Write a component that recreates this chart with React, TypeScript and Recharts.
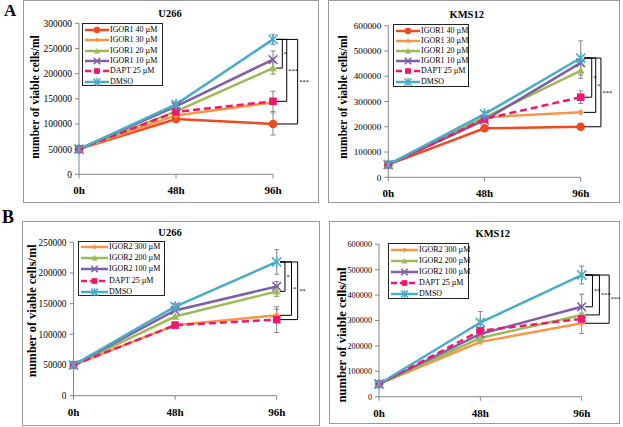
import { LineChart, Line, XAxis, YAxis, ErrorBar, ReferenceLine } from 'recharts'

const RED = '#EF4A1F'
const ORANGE = '#F79646'
const GREEN = '#9BBB59'
const PURPLE = '#7F5FA6'
const PINK = '#F0176E'
const TEAL = '#4BACC6'
const AXIS = '#868686'
const SERIF = '"Liberation Serif", "Times New Roman", serif'

const HOURS = [0, 48, 96]
const HOUR_LABELS = ['0h', '48h', '96h']

// A, U266 (IGOR1)
const AU_I40 = [50000, 110000, 100000]
const AU_I30 = [50000, 117000, 143000]
const AU_I20 = [50000, 125000, 211000]
const AU_I10 = [50000, 135000, 228000]
const AU_DAPT = [50000, 124000, 145000]
const AU_DMSO = [50000, 139000, 268000]
const AU_I40_ERR = [null, 5000, 22000]
const AU_I20_ERR = [null, 4000, 12000]
const AU_I10_ERR = [null, 4000, 17000]
const AU_DAPT_ERR = [null, 6000, 20000]
const AU_DMSO_ERR = [null, 5000, 10000]

// A, KMS12 (IGOR1)
const AK_I40 = [50000, 194000, 200000]
const AK_I30 = [50000, 238000, 257000]
const AK_I20 = [50000, 236000, 422000]
const AK_I10 = [50000, 226000, 453000]
const AK_DAPT = [50000, 231000, 317000]
const AK_DMSO = [50000, 250000, 472000]
const AK_I20_ERR = [null, null, 30000]
const AK_DAPT_ERR = [null, 8000, 25000]
const AK_DMSO_ERR = [null, 10000, 68000]

// B, U266 (IGOR2)
const BU_I300 = [50000, 115000, 131000]
const BU_I200 = [50000, 129000, 170000]
const BU_I100 = [50000, 139000, 178000]
const BU_DAPT = [50000, 115000, 124000]
const BU_DMSO = [50000, 145000, 218000]
const BU_I300_ERR = [null, null, 10000]
const BU_I200_ERR = [null, null, 8000]
const BU_I100_ERR = [null, null, 8000]
const BU_DAPT_ERR = [null, 5000, 21000]
const BU_DMSO_ERR = [null, 5000, 20000]

// B, KMS12 (IGOR2)
const BK_I300 = [50000, 216000, 289000]
const BK_I200 = [50000, 231000, 322000]
const BK_I100 = [50000, 247000, 354000]
const BK_DAPT = [50000, 260000, 306000]
const BK_DMSO = [50000, 292000, 479000]
const BK_I300_ERR = [null, null, 40000]
const BK_I100_ERR = [null, null, 50000]
const BK_DAPT_ERR = [null, 10000, null]
const BK_DMSO_ERR = [null, 43000, 35000]

type Shape = 'circle' | 'diamond' | 'triangle' | 'cross' | 'square' | 'star'
interface Series { key: string; name: string; color: string; shape: Shape; dashed?: boolean }

const IGOR1_SERIES: Series[] = [
  { key: 'c1', name: 'IGOR1 40 µM', color: RED, shape: 'circle' },
  { key: 'c2', name: 'IGOR1 30 µM', color: ORANGE, shape: 'diamond' },
  { key: 'c3', name: 'IGOR1 20 µM', color: GREEN, shape: 'triangle' },
  { key: 'c4', name: 'IGOR1 10 µM', color: PURPLE, shape: 'cross' },
  { key: 'dapt', name: 'DAPT 25 µM', color: PINK, shape: 'square', dashed: true },
  { key: 'dmso', name: 'DMSO', color: TEAL, shape: 'star' },
]

const IGOR2_SERIES: Series[] = [
  { key: 'c2', name: 'IGOR2 300 µM', color: ORANGE, shape: 'diamond' },
  { key: 'c3', name: 'IGOR2 200 µM', color: GREEN, shape: 'triangle' },
  { key: 'c4', name: 'IGOR2 100 µM', color: PURPLE, shape: 'cross' },
  { key: 'dapt', name: 'DAPT 25 µM', color: PINK, shape: 'square', dashed: true },
  { key: 'dmso', name: 'DMSO', color: TEAL, shape: 'star' },
]

function MarkerShape({ cx, cy, shape, color, s }: { cx: number; cy: number; shape: Shape; color: string; s: number }) {
  if (cx == null || cy == null) return null
  switch (shape) {
    case 'circle':
      return <circle cx={cx} cy={cy} r={s} fill={color} />
    case 'diamond':
      return <polygon points={`${cx},${cy - s} ${cx + s},${cy} ${cx},${cy + s} ${cx - s},${cy}`} fill={color} />
    case 'triangle':
      return <polygon points={`${cx},${cy - s} ${cx + s},${cy + s * 0.8} ${cx - s},${cy + s * 0.8}`} fill={color} />
    case 'square':
      return <rect x={cx - s} y={cy - s} width={s * 2} height={s * 2} fill={color} />
    case 'cross':
      return (
        <g stroke={color} strokeWidth={1.6}>
          <line x1={cx - s} y1={cy - s} x2={cx + s} y2={cy + s} />
          <line x1={cx - s} y1={cy + s} x2={cx + s} y2={cy - s} />
        </g>
      )
    default:
      return (
        <g stroke={color} strokeWidth={1.6}>
          <line x1={cx - s} y1={cy - s} x2={cx + s} y2={cy + s} />
          <line x1={cx - s} y1={cy + s} x2={cx + s} y2={cy - s} />
          <line x1={cx} y1={cy - s * 1.2} x2={cx} y2={cy + s * 1.2} />
        </g>
      )
  }
}

const DOT_SIZE: Record<Shape, number> = { circle: 4.3, diamond: 3.3, triangle: 4, cross: 4.3, square: 3.8, star: 4.6 }

interface Bracket { to: string; x: number; label: string }
interface PanelSpec {
  series: Series[]
  values: Record<string, number[]>
  errors: Record<string, (number | null)[]>
  title: string
  yMax: number
  yTicks: number[]
  yFont: number
  box: { x: number; y: number; w: number; h: number }
  plot: { left: number; right: number; top: number; bottom: number }
  titlePos: { x: number; y: number }
  legend: { x: number; y: number; w: number; h: number; first: number; step: number; line: number }
  ylab: { x: number; y: number; size: number }
  brackets: Bracket[]
}

const ticks = (max: number, step: number) => Array.from({ length: max / step + 1 }, (_, i) => i * step)

const PANELS: PanelSpec[] = [
  {
    series: IGOR1_SERIES,
    values: { c1: AU_I40, c2: AU_I30, c3: AU_I20, c4: AU_I10, dapt: AU_DAPT, dmso: AU_DMSO },
    errors: { c1: AU_I40_ERR, c3: AU_I20_ERR, c4: AU_I10_ERR, dapt: AU_DAPT_ERR, dmso: AU_DMSO_ERR },
    title: 'U266',
    yMax: 300000,
    yTicks: ticks(300000, 50000),
    yFont: 9.5,
    box: { x: 23, y: 0, w: 296, h: 203 },
    plot: { left: 56, right: 46, top: 23.3, bottom: 28.7 },
    titlePos: { x: 170, y: 14 },
    legend: { x: 82, y: 23, w: 81, h: 63, first: 6, step: 10.3, line: 24 },
    ylab: { x: 12, y: 97, size: 11.5 },
    brackets: [
      { to: 'c3', x: 100.6, label: '*' },
      { to: 'dapt', x: 102.8, label: '***' },
      { to: 'c1', x: 108.2, label: '***' },
    ],
  },
  {
    series: IGOR1_SERIES,
    values: { c1: AK_I40, c2: AK_I30, c3: AK_I20, c4: AK_I10, dapt: AK_DAPT, dmso: AK_DMSO },
    errors: { c3: AK_I20_ERR, dapt: AK_DAPT_ERR, dmso: AK_DMSO_ERR },
    title: 'KMS12',
    yMax: 600000,
    yTicks: ticks(600000, 100000),
    yFont: 9.2,
    box: { x: 328, y: 0, w: 292, h: 203 },
    plot: { left: 60.3, right: 39.3, top: 25.7, bottom: 25.7 },
    titlePos: { x: 466.7, y: 14.7 },
    legend: { x: 393, y: 24, w: 76, h: 63, first: 5.5, step: 10.2, line: 24 },
    ylab: { x: 15, y: 97, size: 11.5 },
    brackets: [
      { to: 'dapt', x: 101.5, label: '*' },
      { to: 'c2', x: 103.5, label: '*' },
      { to: 'c1', x: 106.1, label: '***' },
    ],
  },
  {
    series: IGOR2_SERIES,
    values: { c2: BU_I300, c3: BU_I200, c4: BU_I100, dapt: BU_DAPT, dmso: BU_DMSO },
    errors: { c2: BU_I300_ERR, c3: BU_I200_ERR, c4: BU_I100_ERR, dapt: BU_DAPT_ERR, dmso: BU_DMSO_ERR },
    title: 'U266',
    yMax: 250000,
    yTicks: ticks(250000, 50000),
    yFont: 9.3,
    box: { x: 22, y: 221, w: 298, h: 205 },
    plot: { left: 51.5, right: 43.3, top: 21.3, bottom: 30.3 },
    titlePos: { x: 170, y: 233.3 },
    legend: { x: 78, y: 241, w: 87, h: 55, first: 4.7, step: 11.3, line: 27 },
    ylab: { x: 10.5, y: 89.7, size: 12.4 },
    brackets: [
      { to: 'c3', x: 99.9, label: '*' },
      { to: 'c2', x: 103, label: '*' },
      { to: 'dapt', x: 105.9, label: '**' },
    ],
  },
  {
    series: IGOR2_SERIES,
    values: { c2: BK_I300, c3: BK_I200, c4: BK_I100, dapt: BK_DAPT, dmso: BK_DMSO },
    errors: { c2: BK_I300_ERR, c4: BK_I100_ERR, dapt: BK_DAPT_ERR, dmso: BK_DMSO_ERR },
    title: 'KMS12',
    yMax: 600000,
    yTicks: ticks(600000, 100000),
    yFont: 8.2,
    box: { x: 329, y: 221, w: 291, h: 203 },
    plot: { left: 50, right: 38.3, top: 23.3, bottom: 27.3 },
    titlePos: { x: 492.7, y: 234.3 },
    legend: { x: 388, y: 243, w: 81, h: 56, first: 6, step: 11, line: 27 },
    ylab: { x: 12.5, y: 114, size: 12.6 },
    brackets: [
      { to: 'c4', x: 101.1, label: '**' },
      { to: 'c3', x: 104.4, label: '***' },
      { to: 'c2', x: 109, label: '***' },
    ],
  },
]

function Legend({ p }: { p: PanelSpec }) {
  const { legend } = p
  return (
    <div
      style={{
        position: 'absolute', left: legend.x, top: legend.y, width: legend.w, height: legend.h,
        border: '1px solid #222', boxSizing: 'border-box', background: '#fff',
      }}
    >
      {p.series.map((s, i) => (
        <div
          key={s.key}
          style={{ position: 'absolute', left: 0, top: legend.first + i * legend.step - 6, height: 12, display: 'flex', alignItems: 'center' }}
        >
          <svg width={legend.line + 2} height={12} style={{ display: 'block' }}>
            <line x1={2} x2={legend.line + 2} y1={6} y2={6} stroke={s.color} strokeWidth={2.5} strokeDasharray={s.dashed ? '6 3' : undefined} />
            <MarkerShape cx={legend.line / 2 + 2} cy={6} shape={s.shape} color={s.color} s={DOT_SIZE[s.shape] * 0.75} />
          </svg>
          <span style={{ fontSize: 8, lineHeight: '12px', whiteSpace: 'nowrap', marginLeft: 1 }}>{s.name}</span>
        </div>
      ))}
    </div>
  )
}

function Panel({ p }: { p: PanelSpec }) {
  const rows = HOURS.map((t, i) => {
    const r: Record<string, number | null> = { t }
    p.series.forEach((s) => {
      r[s.key] = p.values[s.key][i]
      r[`${s.key}_e`] = p.errors[s.key]?.[i] ?? null
    })
    return r
  })
  const last = (k: string) => p.values[k][2]
  const top = last('dmso')

  return (
    <>
      <div
        style={{
          position: 'absolute', left: p.box.x, top: p.box.y, width: p.box.w, height: p.box.h,
          border: '1px solid #9a9a9a', boxSizing: 'border-box',
        }}
      />
      <div style={{ position: 'absolute', left: p.box.x, top: p.box.y }}>
        <LineChart
          width={p.box.w}
          height={p.box.h}
          data={rows}
          margin={{ top: p.plot.top, right: p.plot.right, bottom: 0, left: 0 }}
        >
          <XAxis
            type="number"
            dataKey="t"
            domain={[0, 96]}
            ticks={HOURS}
            interval={0}
            tickFormatter={(v: number) => HOUR_LABELS[HOURS.indexOf(v)]}
            height={p.plot.bottom}
            tickSize={4}
            tickMargin={8}
            stroke={AXIS}
            tick={{ fontSize: 11, fontWeight: 'bold', fill: '#000' }}
          />
          <YAxis
            width={p.plot.left}
            domain={[0, p.yMax]}
            ticks={p.yTicks}
            interval={0}
            tickSize={4}
            tickMargin={3}
            stroke={AXIS}
            tick={{ fontSize: p.yFont, fill: '#000' }}
          />
          {p.series.map((s) => (
            <Line
              key={s.key}
              type="linear"
              dataKey={s.key}
              stroke={s.color}
              strokeWidth={2.5}
              strokeDasharray={s.dashed ? '7 4' : undefined}
              activeDot={false}
              isAnimationActive={false}
              dot={(d: { cx: number; cy: number; index: number }) => (
                <MarkerShape key={`${s.key}-${d.index}`} cx={d.cx} cy={d.cy} shape={s.shape} color={s.color} s={DOT_SIZE[s.shape]} />
              )}
            >
              <ErrorBar dataKey={`${s.key}_e`} width={2.5} strokeWidth={1} stroke={AXIS} direction="y" isAnimationActive={false} />
            </Line>
          ))}
          {p.brackets.map((b, i) => [
            <ReferenceLine key={`a${i}`} segment={[{ x: 97.6, y: top }, { x: b.x, y: top }]} stroke="#000" strokeWidth={1} ifOverflow="visible" />,
            <ReferenceLine
              key={`b${i}`}
              segment={[{ x: b.x, y: top }, { x: b.x, y: last(b.to) }]}
              stroke="#000"
              strokeWidth={1}
              ifOverflow="visible"
              label={{ value: b.label, position: 'right', offset: 1.5, fontSize: 6.5, fill: '#000' }}
            />,
            <ReferenceLine key={`c${i}`} segment={[{ x: b.x, y: last(b.to) }, { x: 97.6, y: last(b.to) }]} stroke="#000" strokeWidth={1} ifOverflow="visible" />,
          ])}
        </LineChart>
      </div>
      <svg style={{ position: 'absolute', left: p.box.x, top: p.box.y, pointerEvents: 'none' }} width={40} height={p.box.h}>
        <text
          x={p.ylab.x}
          y={p.ylab.y}
          transform={`rotate(-90 ${p.ylab.x} ${p.ylab.y})`}
          textAnchor="middle"
          dominantBaseline="central"
          fontWeight="bold"
          fontSize={p.ylab.size}
          fill="#000"
        >
          number of viable cells/ml
        </text>
      </svg>
      <div
        style={{
          position: 'absolute', left: p.titlePos.x - 40, top: p.titlePos.y - 7, width: 80, height: 14,
          textAlign: 'center', fontWeight: 'bold', fontSize: 10.5, lineHeight: '14px',
        }}
      >
        {p.title}
      </div>
      <Legend p={p} />
    </>
  )
}

export default function App() {
  return (
    <div style={{ position: 'absolute', left: 0, top: 0, width: 623, height: 427, background: '#fff', fontFamily: SERIF, color: '#000' }}>
      {PANELS.map((p, i) => (
        <Panel key={i} p={p} />
      ))}
      <div style={{ position: 'absolute', left: 4, top: 2, fontSize: 17, fontWeight: 'bold', lineHeight: '18px' }}>A</div>
      <div style={{ position: 'absolute', left: 2, top: 208, fontSize: 18, fontWeight: 'bold', lineHeight: '19px' }}>B</div>
    </div>
  )
}
